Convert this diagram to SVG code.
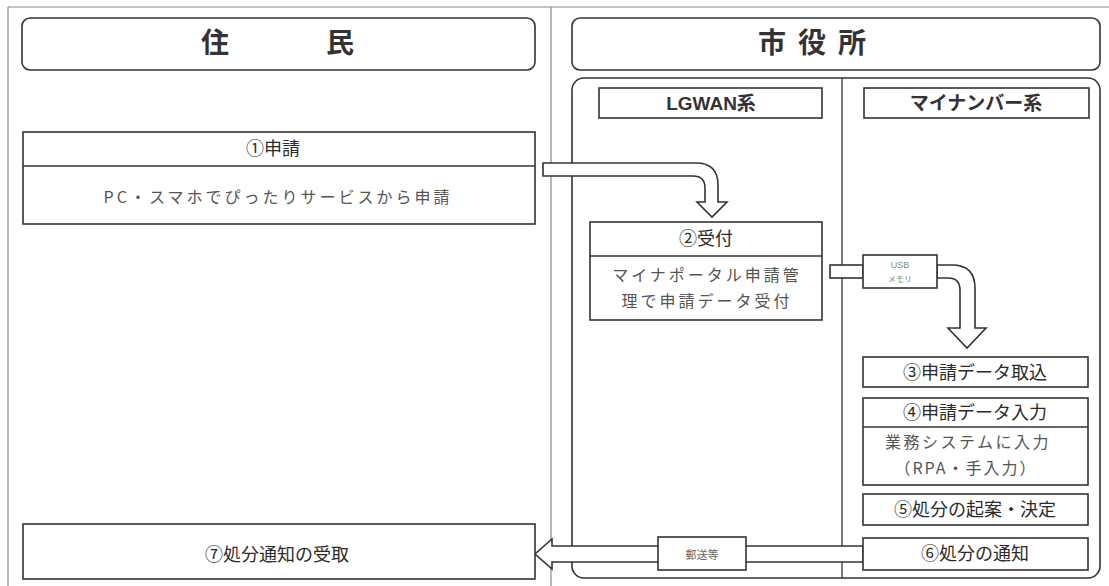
<svg xmlns="http://www.w3.org/2000/svg" width="1109" height="586" viewBox="0 0 1109 586">
<style>
.box{fill:#fff;stroke:#333;stroke-width:1.6}
.frame{fill:none;stroke:#444;stroke-width:1.4}
.dot{fill:none;stroke:#888;stroke-width:1.2}
.arr{fill:#fff;stroke:#333;stroke-width:1.6;stroke-linejoin:miter}
.big{font-family:"Noto Sans CJK JP","Noto Sans CJK SC",sans-serif;font-size:28px;font-weight:700;fill:#333;text-anchor:middle}
.sys{font-family:"Liberation Sans","Noto Sans CJK JP",sans-serif;font-size:19px;font-weight:700;fill:#333;text-anchor:middle}
.lab{font-family:"Noto Sans CJK JP","Noto Sans CJK SC",sans-serif;font-size:18px;fill:#2a2a2a;text-anchor:middle}
.body{font-family:"Noto Sans CJK JP","Noto Sans CJK SC",sans-serif;font-size:16px;fill:#555;text-anchor:middle;letter-spacing:3px}
.tiny{font-family:"Liberation Sans","Noto Sans CJK JP",sans-serif;font-size:9px;fill:#7a8a7a;text-anchor:middle}
</style>
<rect width="1109" height="586" fill="#fff"/>
<g id="frame">
<line class="dot" x1="8" y1="7" x2="1109" y2="7"/>
<line class="dot" x1="8" y1="7" x2="8" y2="586"/>
<line class="dot" x1="551" y1="7" x2="551" y2="586"/>
</g>
<g id="header-jumin">
<rect class="box" x="22" y="18" width="513" height="52" rx="8"/>
<text class="big" y="53"><tspan x="215">住</tspan><tspan x="340">民</tspan></text>
</g>
<g id="header-shiyakusho">
<rect class="box" x="572" y="18" width="528" height="52" rx="8"/>
<text class="big" y="53"><tspan x="772">市</tspan><tspan x="812">役</tspan><tspan x="852">所</tspan></text>
</g>
<g id="system-area">
<rect class="box" x="572" y="78" width="528" height="500" rx="12"/>
<line class="frame" x1="842" y1="78" x2="842" y2="578"/>
</g>
<g id="lgwan">
<rect class="box" x="599" y="88" width="223" height="30"/>
<text class="sys" x="711" y="110">LGWAN系</text>
</g>
<g id="mynumber">
<rect class="box" x="864" y="88" width="225" height="30"/>
<text class="sys" x="976" y="110">マイナンバー系</text>
</g>
<g id="connectors">
<path class="arr" d="M543,163 H696 Q718,163 718,185 V202 H727 L712,217 L697,202 H705 V188 Q705,176 693,176 H543 Z"/>
<rect class="arr" x="830" y="265" width="33" height="13"/>
<path class="arr" d="M937,265 H952 Q975,265 975,288 V328 H986 L967,348 L948,328 H960 V290 Q960,278 948,278 H937 Z"/>
<rect class="arr" x="863" y="255" width="74" height="33"/>
<text class="tiny" x="900" y="268">USB</text>
<text class="tiny" x="900" y="282" style="font-size:8px">メモリ</text>
<path class="arr" d="M863,546 H552 V539 L535,554 L552,569 V562 H863 Z"/>
<rect class="arr" x="658" y="537" width="88" height="33"/>
<text class="tiny" x="702" y="559" style="font-size:11px;fill:#666">郵送等</text>
</g>
<g id="step1">
<rect class="box" x="23" y="132" width="512" height="92"/>
<line class="box" x1="23" y1="166" x2="535" y2="166"/>
<text class="lab" x="273" y="155">①申請</text>
<text class="body" x="278" y="203">PC・スマホでぴったりサービスから申請</text>
</g>
<g id="step2">
<rect class="box" x="590" y="222" width="232" height="98"/>
<line class="box" x1="590" y1="256" x2="822" y2="256"/>
<text class="lab" x="706" y="245">②受付</text>
<text class="body" x="707" y="281">マイナポータル申請管</text>
<text class="body" x="707" y="307">理で申請データ受付</text>
</g>
<g id="step3">
<rect class="box" x="863" y="357" width="225" height="30"/>
<text class="lab" x="975" y="379">③申請データ取込</text>
</g>
<g id="step4">
<rect class="box" x="863" y="398" width="225" height="87"/>
<line class="box" x1="863" y1="427" x2="1088" y2="427"/>
<text class="lab" x="975" y="419">④申請データ入力</text>
<text class="body" x="968" y="448" style="letter-spacing:2.5px">業務システムに入力</text>
<text class="body" x="966" y="474" style="letter-spacing:2px">（RPA・手入力）</text>
</g>
<g id="step5">
<rect class="box" x="863" y="494" width="225" height="31"/>
<text class="lab" x="975" y="516">⑤処分の起案・決定</text>
</g>
<g id="step6">
<rect class="box" x="863" y="538" width="225" height="32"/>
<text class="lab" x="975" y="560">⑥処分の通知</text>
</g>
<g id="step7">
<rect class="box" x="23" y="524" width="512" height="55"/>
<text class="lab" x="277" y="561">⑦処分通知の受取</text>
</g>
</svg>
